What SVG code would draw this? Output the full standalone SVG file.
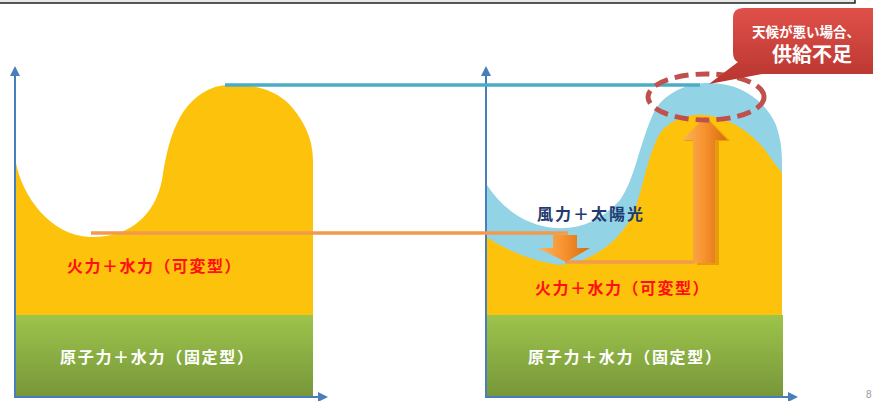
<svg xmlns="http://www.w3.org/2000/svg" width="873" height="401" viewBox="0 0 873 401">
<style>
  .jp { font-family: "Noto Sans CJK JP", "Noto Sans", sans-serif; font-weight: bold; }
  .red { fill: #ff1010; font-size: 16px; letter-spacing: 1.5px; }
  .wht { fill: #ffffff; font-size: 16px; letter-spacing: 1.7px; }
  .navy { fill: #1f3a6e; font-size: 16px; letter-spacing: 2px; }
  .axis { stroke: #4a7ebb; stroke-width: 2; fill: none; }
  .yel { fill: #fdc30c; }
  .blu { fill: #93d3e6; }
</style>
<defs>
  <marker id="ax" viewBox="0 0 10 10" refX="8" refY="5" markerWidth="5" markerHeight="5" orient="auto">
    <path d="M0,0 L10,5 L0,10 Z" fill="#4a7ebb"/>
  </marker>
  <linearGradient id="grn" x1="0" y1="0" x2="0" y2="1">
    <stop offset="0" stop-color="#9dc44b"/>
    <stop offset="1" stop-color="#77963a"/>
  </linearGradient>
  <linearGradient id="org" x1="0" y1="0" x2="1" y2="0">
    <stop offset="0" stop-color="#fbb45c"/>
    <stop offset="0.5" stop-color="#f7922e"/>
    <stop offset="1" stop-color="#d9690f"/>
  </linearGradient>
  <linearGradient id="callout" x1="0" y1="0" x2="0" y2="1">
    <stop offset="0" stop-color="#e0504a"/>
    <stop offset="1" stop-color="#b8352f"/>
  </linearGradient>
</defs>

<g id="frame">
  <rect x="-4" y="-10" width="859" height="13" fill="#e8e8e8" stroke="#222" stroke-width="1.5"/>
</g>

<g id="left-chart">
  <path class="yel" d="M16,163 C22,195 50,236 90,237 C130,238 155,215 162,180 C168,140 178,100 215,87 C235,82 270,84 290,105 C308,125 313,145 313,160 L313,315 L16,315 Z"/>
  <rect x="16" y="315" width="297" height="82" fill="url(#grn)"/>
  <line class="axis" x1="15" y1="398" x2="15" y2="68" marker-end="url(#ax)"/>
  <line class="axis" x1="15" y1="397" x2="326" y2="397" marker-end="url(#ax)"/>
</g>

<g id="right-chart">
  <path class="blu" d="M487,185 C500,205 520,222 547,227 C575,232 600,222 620,200 C635,180 640,140 655,110 C668,90 690,83 710,83 C740,83 765,100 776,125 C783,145 782,160 782,175 L782,315 L487,315 Z"/>
  <path class="yel" d="M487,237 C505,250 535,262 560,265 C590,262 615,245 630,220 C643,195 645,160 660,133 C672,118 690,114 705,115 C735,118 760,140 772,160 C780,170 782,172 782,175 L782,315 L487,315 Z"/>
  <rect x="487" y="315" width="296" height="82" fill="url(#grn)"/>
  <line class="axis" x1="486" y1="398" x2="486" y2="68" marker-end="url(#ax)"/>
  <line class="axis" x1="486" y1="397" x2="796" y2="397" marker-end="url(#ax)"/>
</g>

<g id="connectors">
  <line x1="225" y1="85" x2="700" y2="85" stroke="#4bacc6" stroke-width="3.5"/>
  <line x1="91" y1="233" x2="568" y2="233" stroke="#f29a4e" stroke-width="3.5"/>
  <line x1="565" y1="262" x2="695" y2="262" stroke="#f29a4e" stroke-width="3.5"/>
  <polygon points="553,235 577,235 577,248 590,248 566,262 538,248 553,248" fill="url(#org)"/>
  <polygon points="695,264 717,264 717,140 728,140 705,117 682,140 693,140" fill="#b9550a" opacity="0.35" transform="translate(2,1)"/>
  <polygon points="693,263 715,263 715,140 727,140 705,117 682,140 693,140" fill="url(#org)"/>
</g>

<g id="shortage-ellipse">
  <ellipse cx="706" cy="97" rx="58" ry="23" fill="none" stroke="#c0504d" stroke-width="5" stroke-dasharray="14,7"/>
</g>

<g id="callout-node">
  <path d="M743,8 L873,8 L873,74 L762,74 L709,84 L738,62 Q733,60 733,52 L733,18 Q733,8 743,8 Z" fill="url(#callout)"/>
  <text class="jp" x="806" y="37" text-anchor="middle" font-size="13.5" fill="#fff">天候が悪い場合、</text>
  <text class="jp" x="812" y="62" text-anchor="middle" font-size="20" fill="#fff">供給不足</text>
</g>

<g id="labels-left">
  <text class="jp red" x="67" y="272">火力＋水力（可変型）</text>
  <text class="jp wht" x="60" y="363">原子力＋水力（固定型）</text>
</g>

<g id="labels-right">
  <text class="jp navy" x="537" y="220">風力＋太陽光</text>
  <text class="jp red" x="535" y="294">火力＋水力（可変型）</text>
  <text class="jp wht" x="528" y="363">原子力＋水力（固定型）</text>
</g>

<g id="page-number">
  <text x="866" y="398" font-family="Liberation Sans, sans-serif" font-size="10" fill="#999">8</text>
</g>
</svg>
